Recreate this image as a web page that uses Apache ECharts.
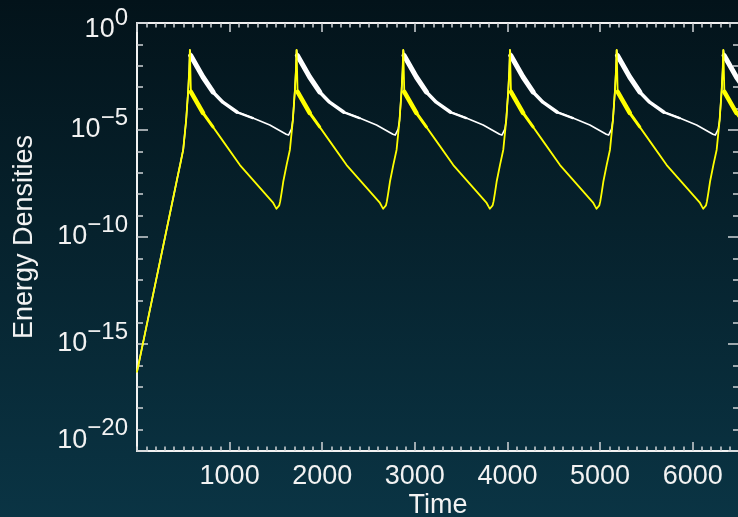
<!DOCTYPE html>
<html>
<head>
<meta charset="utf-8">
<script src="https://cdn.jsdelivr.net/npm/echarts@6/dist/echarts.min.js"></script>
<style>
  html, body { margin: 0; padding: 0; }
  #chart { width: 738px; height: 517px; }
</style>
</head>
<body>
<div id="chart"></div>
<script>
// Energy density history: exponential growth, then repeated bursts and decays.
// Upper (white) curve
const upperTime = [
  0, 431, 499, 531, 553, 564, 571,
  591, 712, 820, 927, 1078, 1251, 1434, 1611, 1636, 1656, 1668, 1683, 1705, 1716, 1723,
  1743, 1864, 1972, 2079, 2230, 2403, 2586, 2763, 2788, 2808, 2820, 2835, 2857, 2868, 2875,
  2895, 3016, 3124, 3231, 3382, 3555, 3738, 3915, 3940, 3960, 3972, 3987, 4009, 4020, 4027,
  4047, 4168, 4276, 4383, 4534, 4707, 4890, 5067, 5092, 5112, 5124, 5139, 5161, 5172, 5179,
  5199, 5320, 5428, 5535, 5686, 5859, 6042, 6219, 6244, 6264, 6276, 6291, 6313, 6324, 6331,
  6351, 6472, 6580
];
const upperValue = [
  5.0e-17, 4.6e-8, 1.2e-6, 3.0e-5, 7.4e-4, 6.3e-3, 5.5e-2,
  1.9e-2, 3.0e-3, 6.0e-4, 2.0e-4, 6.9e-5, 3.6e-5, 1.7e-5, 6.3e-6, 5.8e-6, 6.4e-6, 1.1e-5, 3.0e-5, 7.4e-4, 6.3e-3, 5.5e-2,
  1.9e-2, 3.0e-3, 6.0e-4, 2.0e-4, 6.9e-5, 3.6e-5, 1.7e-5, 6.3e-6, 5.8e-6, 6.4e-6, 1.1e-5, 3.0e-5, 7.4e-4, 6.3e-3, 5.5e-2,
  1.9e-2, 3.0e-3, 6.0e-4, 2.0e-4, 6.9e-5, 3.6e-5, 1.7e-5, 6.3e-6, 5.8e-6, 6.4e-6, 1.1e-5, 3.0e-5, 7.4e-4, 6.3e-3, 5.5e-2,
  1.9e-2, 3.0e-3, 6.0e-4, 2.0e-4, 6.9e-5, 3.6e-5, 1.7e-5, 6.3e-6, 5.8e-6, 6.4e-6, 1.1e-5, 3.0e-5, 7.4e-4, 6.3e-3, 5.5e-2,
  1.9e-2, 3.0e-3, 6.0e-4, 2.0e-4, 6.9e-5, 3.6e-5, 1.7e-5, 6.3e-6, 5.8e-6, 6.4e-6, 1.1e-5, 3.0e-5, 7.4e-4, 6.3e-3, 5.5e-2,
  1.9e-2, 3.0e-3, 6.0e-4
];
// Noisy stretch right after each upper burst, drawn as bands that narrow with time
const upperBandWideTime = [
  580, 712, 820, null,
  1732, 1864, 1972, null,
  2884, 3016, 3124, null,
  4036, 4168, 4276, null,
  5188, 5320, 5428, null,
  6340, 6472, 6580
];
const upperBandWideValue = [
  3.0e-2, 3.0e-3, 6.0e-4, null,
  3.0e-2, 3.0e-3, 6.0e-4, null,
  3.0e-2, 3.0e-3, 6.0e-4, null,
  3.0e-2, 3.0e-3, 6.0e-4, null,
  3.0e-2, 3.0e-3, 6.0e-4, null,
  3.0e-2, 3.0e-3, 6.0e-4
];
const upperBandMidTime = [
  820, 927, 1078, null,
  1972, 2079, 2230, null,
  3124, 3231, 3382, null,
  4276, 4383, 4534, null,
  5428, 5535, 5686
];
const upperBandMidValue = [
  6.0e-4, 2.0e-4, 6.9e-5, null,
  6.0e-4, 2.0e-4, 6.9e-5, null,
  6.0e-4, 2.0e-4, 6.9e-5, null,
  6.0e-4, 2.0e-4, 6.9e-5, null,
  6.0e-4, 2.0e-4, 6.9e-5
];
const upperBandThinTime = [
  1078, 1251, null,
  2230, 2403, null,
  3382, 3555, null,
  4534, 4707, null,
  5686, 5859
];
const upperBandThinValue = [
  6.9e-5, 3.6e-5, null,
  6.9e-5, 3.6e-5, null,
  6.9e-5, 3.6e-5, null,
  6.9e-5, 3.6e-5, null,
  6.9e-5, 3.6e-5
];

// Lower (yellow) curve
const lowerTime = [
  0, 431, 467, 499, 531, 553, 564, 571,
  582, 712, 820, 927, 1111, 1471, 1491, 1506, 1516, 1526, 1536, 1546, 1561, 1579, 1615, 1651, 1683, 1705, 1716, 1723,
  1734, 1864, 1972, 2079, 2263, 2623, 2643, 2658, 2668, 2678, 2688, 2698, 2713, 2731, 2767, 2803, 2835, 2857, 2868, 2875,
  2886, 3016, 3124, 3231, 3415, 3775, 3795, 3810, 3820, 3830, 3840, 3850, 3865, 3883, 3919, 3955, 3987, 4009, 4020, 4027,
  4038, 4168, 4276, 4383, 4567, 4927, 4947, 4962, 4972, 4982, 4992, 5002, 5017, 5035, 5071, 5107, 5139, 5161, 5172, 5179,
  5190, 5320, 5428, 5535, 5719, 6079, 6099, 6114, 6124, 6134, 6144, 6154, 6169, 6187, 6223, 6259, 6291, 6313, 6324, 6331,
  6342, 6472, 6580
];
const lowerValue = [
  5.0e-17, 4.6e-8, 2.5e-7, 1.2e-6, 3.0e-5, 7.4e-4, 6.3e-3, 5.5e-2,
  6.0e-4, 6.3e-5, 1.4e-5, 3.1e-6, 2.3e-7, 3.9e-9, 2.7e-9, 2.1e-9, 1.95e-9, 2.2e-9, 3.0e-9, 4.6e-9, 1.15e-8, 3.8e-8, 2.3e-7, 1.2e-6, 3.0e-5, 7.4e-4, 6.3e-3, 5.5e-2,
  6.0e-4, 6.3e-5, 1.4e-5, 3.1e-6, 2.3e-7, 3.9e-9, 2.7e-9, 2.1e-9, 1.95e-9, 2.2e-9, 3.0e-9, 4.6e-9, 1.15e-8, 3.8e-8, 2.3e-7, 1.2e-6, 3.0e-5, 7.4e-4, 6.3e-3, 5.5e-2,
  6.0e-4, 6.3e-5, 1.4e-5, 3.1e-6, 2.3e-7, 3.9e-9, 2.7e-9, 2.1e-9, 1.95e-9, 2.2e-9, 3.0e-9, 4.6e-9, 1.15e-8, 3.8e-8, 2.3e-7, 1.2e-6, 3.0e-5, 7.4e-4, 6.3e-3, 5.5e-2,
  6.0e-4, 6.3e-5, 1.4e-5, 3.1e-6, 2.3e-7, 3.9e-9, 2.7e-9, 2.1e-9, 1.95e-9, 2.2e-9, 3.0e-9, 4.6e-9, 1.15e-8, 3.8e-8, 2.3e-7, 1.2e-6, 3.0e-5, 7.4e-4, 6.3e-3, 5.5e-2,
  6.0e-4, 6.3e-5, 1.4e-5, 3.1e-6, 2.3e-7, 3.9e-9, 2.7e-9, 2.1e-9, 1.95e-9, 2.2e-9, 3.0e-9, 4.6e-9, 1.15e-8, 3.8e-8, 2.3e-7, 1.2e-6, 3.0e-5, 7.4e-4, 6.3e-3, 5.5e-2,
  6.0e-4, 6.3e-5, 1.4e-5
];
const lowerBandWideTime = [
  582, 712, null,
  1734, 1864, null,
  2886, 3016, null,
  4038, 4168, null,
  5190, 5320, null,
  6342, 6472
];
const lowerBandWideValue = [
  6.0e-4, 6.3e-5, null,
  6.0e-4, 6.3e-5, null,
  6.0e-4, 6.3e-5, null,
  6.0e-4, 6.3e-5, null,
  6.0e-4, 6.3e-5, null,
  6.0e-4, 6.3e-5
];
const lowerBandMidTime = [
  712, 820, null,
  1864, 1972, null,
  3016, 3124, null,
  4168, 4276, null,
  5320, 5428, null,
  6472, 6580
];
const lowerBandMidValue = [
  6.3e-5, 1.4e-5, null,
  6.3e-5, 1.4e-5, null,
  6.3e-5, 1.4e-5, null,
  6.3e-5, 1.4e-5, null,
  6.3e-5, 1.4e-5, null,
  6.3e-5, 1.4e-5
];

// Axis ranges and tick spacing
const timeRange = [0, 6500];
const timeMajorStep = 1000;
const timeMinorStep = 100;
const densityRange = [1e-20, 1];
const decadesPerLabel = 5;

const FONT = '"Liberation Sans", Arial, Helvetica, sans-serif';
const INK = '#f2f2f2';
const TICK = '#cfd3d6';

function pairs(xs, ys) {
  return xs.map((x, i) => (x === null ? [NaN, NaN] : [x, ys[i]]));
}

function powerLabel(v) {
  const e = Math.round(Math.log10(v));
  const k = e === 0 ? 't' : (e === -20 ? 'b' : 'm');
  const sup = e === 0 ? '0' : '\u2212' + (-e);
  return '{' + k + 'B|10}{' + k + 'S|' + sup + '}';
}

const baseTxt = { fontSize: 27, lineHeight: 27, fontFamily: FONT, color: INK };
const supTxt = { fontSize: 24, lineHeight: 24, fontFamily: FONT, color: INK };
const richPowers = {
  mB: Object.assign({}, baseTxt, { padding: [12.5, 0, 12.5, 0] }),
  mS: Object.assign({}, supTxt, { padding: [2, 0, 26, 0] }),
  tB: Object.assign({}, baseTxt, { padding: [19.5, 0, 5.5, 0] }),
  tS: Object.assign({}, supTxt, { padding: [9, 0, 19, 0] }),
  bB: Object.assign({}, baseTxt, { padding: [11.5, 0, 31.5, 0] }),
  bS: Object.assign({}, supTxt, { padding: [0, 0, 46, 0] })
};

function timeAxis(position, step, tickLen, withLine, withLabels) {
  const ax = {
    type: 'value', position: position,
    min: timeRange[0], max: timeRange[1], interval: step,
    splitLine: { show: false },
    axisLine: { show: withLine, onZero: false, lineStyle: { color: INK, width: 2 } },
    axisTick: { show: true, inside: true, length: tickLen, lineStyle: { color: TICK, width: 1.5 } },
    axisLabel: { show: false }
  };
  if (withLabels) {
    ax.axisLabel = {
      show: true, margin: 12, showMinLabel: false, showMaxLabel: false,
      formatter: (v) => String(v),
      color: INK, fontSize: 27, fontFamily: FONT
    };
    ax.name = 'Time';
    ax.nameLocation = 'middle';
    ax.nameGap = 41;
    ax.nameMoveOverlap = false;
    ax.nameTextStyle = { color: INK, fontSize: 27, fontFamily: FONT };
  }
  return ax;
}

function densityAxis(position, step, tickLen, withLine, withLabels) {
  const ax = {
    type: 'log', logBase: 10, position: position,
    min: densityRange[0], max: densityRange[1], interval: step,
    splitLine: { show: false },
    axisLine: { show: withLine, onZero: false, lineStyle: { color: INK, width: 2 } },
    axisTick: { show: true, inside: true, length: tickLen, lineStyle: { color: TICK, width: 1.5 } },
    axisLabel: { show: false }
  };
  if (withLabels) {
    ax.axisLabel = {
      show: true, margin: 9, formatter: powerLabel, rich: richPowers,
      color: INK, fontSize: 27, fontFamily: FONT
    };
    ax.name = 'Energy Densities';
    ax.nameLocation = 'middle';
    ax.nameGap = 99;
    ax.nameRotate = 90;
    ax.nameMoveOverlap = false;
    ax.nameTextStyle = { color: INK, fontSize: 27, fontFamily: FONT };
  }
  return ax;
}

function curve(name, xs, ys, color, width) {
  return {
    type: 'line', name: name, data: pairs(xs, ys),
    showSymbol: false, clip: true, connectNulls: false,
    lineStyle: { color: color, width: width, join: 'round', cap: 'round' }
  };
}

const chart = echarts.init(document.getElementById('chart'), null, { renderer: 'canvas' });
chart.setOption({
  animation: false,
  backgroundColor: new echarts.graphic.LinearGradient(0, 0, 0, 1, [
    { offset: 0, color: '#03131a' },
    { offset: 1, color: '#0a3444' }
  ]),
  grid: { left: 137, top: 23, width: 602, height: 428, containLabel: false, outerBoundsMode: 'none' },
  xAxis: [
    timeAxis('bottom', timeMajorStep, 9, true, true),
    timeAxis('bottom', timeMinorStep, 4.5, false, false),
    timeAxis('top', timeMajorStep, 9, true, false),
    timeAxis('top', timeMinorStep, 4.5, false, false)
  ],
  yAxis: [
    densityAxis('left', decadesPerLabel, 11, true, true),
    densityAxis('left', 1, 6, false, false),
    densityAxis('right', decadesPerLabel, 11, true, false),
    densityAxis('right', 1, 6, false, false)
  ],
  series: [
    curve('upper', upperTime, upperValue, '#ffffff', 1.6),
    curve('upper band wide', upperBandWideTime, upperBandWideValue, '#ffffff', 5),
    curve('upper band mid', upperBandMidTime, upperBandMidValue, '#ffffff', 3.5),
    curve('upper band thin', upperBandThinTime, upperBandThinValue, '#ffffff', 2.4),
    curve('lower', lowerTime, lowerValue, '#ffff00', 1.8),
    curve('lower band wide', lowerBandWideTime, lowerBandWideValue, '#ffff00', 4.5),
    curve('lower band mid', lowerBandMidTime, lowerBandMidValue, '#ffff00', 3)
  ]
});
</script>
</body>
</html>
